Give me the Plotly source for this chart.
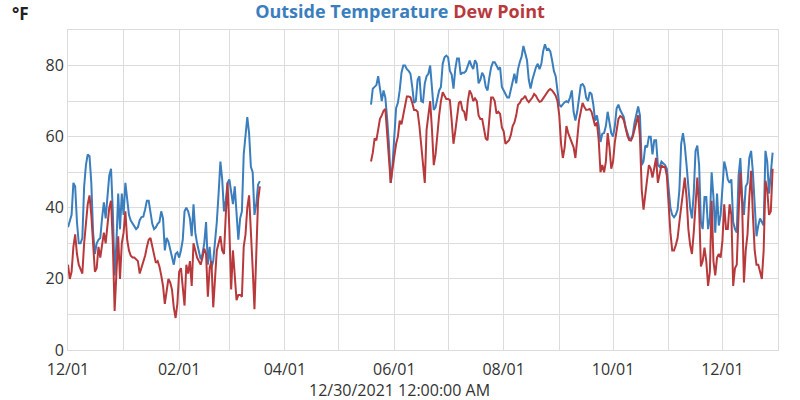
import pandas as pd
import plotly.graph_objects as go

# ---- data (daily readings, °F) ----
temp_dec20 = [34.5, 36, 38, 47, 46, 36, 30, 30, 31.5, 46, 52, 55, 54.5, 47, 33, 27, 30, 31, 31.5, 37, 41.5, 37, 44, 49, 51, 39, 21, 30, 44, 34, 44]
dew_dec20 = [24, 20, 22, 29, 32.5, 27, 24, 22.5, 21.5, 30, 36, 41, 43.5, 38, 30, 22, 23, 29, 26, 29, 33, 30, 35, 40, 42, 30, 11, 22, 32, 20, 30]
temp_jan21 = [38, 47, 42, 38, 36.4, 35.5, 34.5, 34, 34.5, 36.5, 37.4, 37.5, 39.5, 42, 42, 38, 35.5, 34, 34.5, 35.5, 36, 39, 37, 28, 31.5, 30.5, 28, 26, 24, 27, 27.5]
dew_jan21 = [33, 39, 31, 28, 26.5, 26, 26, 25.5, 25, 21.5, 23, 24.5, 26.5, 29, 31, 31.5, 29, 27, 24.5, 25, 23.5, 21, 18, 13, 17, 20, 19, 17, 12, 9, 13]
temp_feb21 = [26, 28, 31, 39, 40, 39, 37, 32, 41, 33, 30, 28, 25.5, 27, 30, 36, 24, 29, 23, 25, 30, 36, 44, 53, 48, 39, 42, 47]
dew_feb21 = [22, 23, 18, 12.5, 24, 21.5, 25, 18, 30, 28, 26, 25, 24, 26, 28.5, 27, 15, 23, 25, 12, 21, 28, 30, 32, 28, 27, 38, 47]
temp_mar21 = [48, 45, 41, 46, 37, 31, 37, 39, 55, 61, 65.5, 61, 51.5, 50, 38, 41, 46.5, 47.5]
dew_mar21 = [34, 17, 28, 21, 14, 15.5, 15.5, 15, 29, 32.5, 40, 43.5, 34.5, 23, 11.5, 30, 42, 46]

temp_may21 = [69, 73.5, 74, 74.5, 77, 74, 70, 73, 71, 65, 58, 47, 52]
dew_may21 = [53, 55.5, 59.5, 59, 62, 65, 66, 67.3, 67.8, 61, 54, 47, 51]
temp_jun21 = [60, 68, 69.5, 73, 78, 80, 80, 79, 78.5, 77.7, 74, 69.5, 70, 76, 77, 70, 69.7, 75, 77, 77.7, 80, 74, 67.5, 68.3, 71, 73, 74, 80.5, 82.3, 82.8]
dew_jun21 = [55, 58, 60, 64.5, 63.5, 66, 68.3, 71.3, 71.3, 71.1, 69.5, 67.5, 67.5, 67, 63, 58, 51, 47, 62, 67, 70, 62, 52, 55, 61, 66, 70, 72.5, 71.5, 70.6]
temp_jul21 = [82.3, 78.5, 77.5, 73.5, 79, 82, 82, 77.5, 78, 78, 78.5, 80, 81.4, 80, 79, 81.5, 80.5, 75, 76, 78, 77, 74, 73, 76.7, 79.5, 80.9, 80.9, 80, 79, 79.5, 74]
dew_jul21 = [70.6, 70.3, 64.5, 58, 61.5, 66, 69.5, 70, 67.5, 67, 64.5, 70, 73, 72, 70, 70.8, 70, 66, 65, 65, 62, 59.5, 59, 65, 71, 71, 70, 66.5, 67, 66.4, 62.6]
temp_aug21 = [73, 72, 71, 71, 73, 75, 77.7, 75, 79, 81, 82.5, 85.5, 83.5, 81.5, 76, 73.5, 76, 78, 79.5, 80.5, 79, 80.5, 84, 86, 84.5, 84.7, 84, 81.5, 78.5, 77, 73]
dew_aug21 = [61.5, 58, 58.5, 59, 60.5, 63, 64, 66, 69, 69.5, 70.5, 70.8, 71.5, 70.3, 69.7, 70.3, 71, 72, 71.5, 70.5, 69.8, 70, 70.8, 71.5, 72, 73, 73.4, 73, 72.3, 71.5, 70]
temp_sep21 = [69, 68.5, 69.2, 69.7, 70, 69.7, 71, 73, 67, 64.5, 67, 71, 74.5, 74.8, 74, 71, 70, 72.5, 72, 69, 64.5, 66, 63, 58.5, 60.8, 61, 63, 67, 63.5, 61]
dew_sep21 = [66, 58, 54, 57, 63, 61, 59.8, 58.5, 57, 54, 60, 64.5, 67, 69.5, 68.3, 67.5, 67.6, 67.8, 67, 65, 63, 64, 59, 50, 52, 50, 53, 61, 57, 51]
temp_oct21 = [60, 63, 68, 69, 67.5, 66.5, 65.5, 62.7, 60.8, 59.5, 59.4, 60.5, 64, 66, 68.5, 66, 52, 53, 57.5, 57, 60, 60, 55, 59, 59, 52, 51.5, 53, 52.5, 52, 51]
dew_oct21 = [53, 58.5, 62.5, 65, 65.8, 65.5, 64.6, 62.2, 60.3, 59, 58.9, 60, 62, 63.4, 66, 60, 45, 39.5, 43, 48, 52, 51, 48.5, 51, 54, 47, 49.5, 52, 51.5, 51.5, 49]
temp_nov21 = [45, 40, 38, 37.3, 38, 39.5, 45, 58, 61, 57.5, 52, 45, 40, 37, 44, 56, 57.5, 52, 36, 34, 43, 43, 34, 37, 50, 43, 33, 44, 35, 38]
dew_nov21 = [40, 33, 28, 28, 29.5, 31.5, 36, 40, 45, 48.5, 43, 34, 29.5, 27, 33, 42, 48.5, 40, 23.5, 25, 28.8, 25, 18, 22, 42, 25, 21, 26, 27, 26]
temp_dec21 = [47, 53, 51, 48, 47, 48, 36, 34, 33, 49, 54, 43, 38, 46, 47, 54, 56, 50, 41, 32, 35, 37, 36, 35, 56, 53, 44, 49, 55.5]
dew_dec21 = [30.7, 41, 34, 34, 41, 38, 18, 23, 24, 38, 50, 41, 19, 28, 32.6, 42.9, 50.4, 38, 28, 24, 24, 22, 20, 28, 47.6, 45, 38, 39, 51]

segment1 = [("2020-12-01", temp_dec20, dew_dec20), ("2021-01-01", temp_jan21, dew_jan21),
            ("2021-02-01", temp_feb21, dew_feb21), ("2021-03-01", temp_mar21, dew_mar21)]
segment2 = [("2021-05-19", temp_may21, dew_may21), ("2021-06-01", temp_jun21, dew_jun21),
            ("2021-07-01", temp_jul21, dew_jul21), ("2021-08-01", temp_aug21, dew_aug21),
            ("2021-09-01", temp_sep21, dew_sep21), ("2021-10-01", temp_oct21, dew_oct21),
            ("2021-11-01", temp_nov21, dew_nov21), ("2021-12-01", temp_dec21, dew_dec21)]
gap_date = "2021-04-15"
date_label = "12/30/2021 12:00:00 AM"

x, t, d = [], [], []
for seg_i, seg in enumerate([segment1, segment2]):
    if seg_i == 1:
        x.append(pd.Timestamp(gap_date)); t.append(None); d.append(None)
    for start, tv, dv in seg:
        dates = pd.date_range(start, periods=len(tv), freq="D")
        x.extend(dates); t.extend(tv); d.extend(dv)

BLUE = "#3a7ebd"
RED = "#b8393c"
GRID = "#dcdcdc"
TXT = "#333333"
FONT = "Open Sans"

fig = go.Figure()
fig.add_trace(go.Scatter(x=x, y=t, mode="lines", name="Outside Temperature",
                         line=dict(color=BLUE, width=2), connectgaps=False))
fig.add_trace(go.Scatter(x=x, y=d, mode="lines", name="Dew Point",
                         line=dict(color=RED, width=2), connectgaps=False))

fig.update_layout(
    width=800, height=400,
    margin=dict(l=68, r=22, t=30, b=50),
    paper_bgcolor="white", plot_bgcolor="white",
    showlegend=False,
    font=dict(family=FONT, size=16, color=TXT),
    title=dict(
        text=f"<b><span style='color:{BLUE}'>Outside Temperature</span> "
             f"<span style='color:{RED}'>Dew Point</span></b>",
        x=0.5, xref="container", y=0.97, yref="container", yanchor="middle",
        font=dict(family=FONT, size=18),
    ),
    xaxis=dict(
        type="date", range=["2020-12-01", "2022-01-01"],
        tick0="2020-12-01", dtick="M2", tickformat="%m/%d",
        showgrid=True, gridcolor=GRID, gridwidth=1,
        minor=dict(dtick="M1", tick0="2020-12-01", showgrid=True, gridcolor=GRID, gridwidth=1),
        showline=True, linecolor=GRID, mirror=True, zeroline=False, ticks="",
        tickfont=dict(size=16, color=TXT), ticklabelstandoff=5,
        automargin=False,
    ),
    yaxis=dict(
        range=[0, 90], dtick=20, tick0=0,
        showgrid=True, gridcolor=GRID, gridwidth=1,
        minor=dict(dtick=10, showgrid=True, gridcolor=GRID, gridwidth=1),
        showline=True, linecolor=GRID, mirror=True, zeroline=False, ticks="",
        tickfont=dict(size=16, color=TXT), automargin=False,
    ),
    annotations=[
        dict(text="<b>°F</b>", xref="paper", yref="paper", x=-0.081, y=1.05,
             xanchor="left", yanchor="middle", showarrow=False,
             font=dict(family=FONT, size=17, color="#222222")),
        dict(text=date_label, xref="paper", yref="paper", x=0.4676, y=-0.126,
             xanchor="center", yanchor="middle", showarrow=False,
             font=dict(family=FONT, size=16, color=TXT)),
    ],
)

fig.write_html("out.html")
